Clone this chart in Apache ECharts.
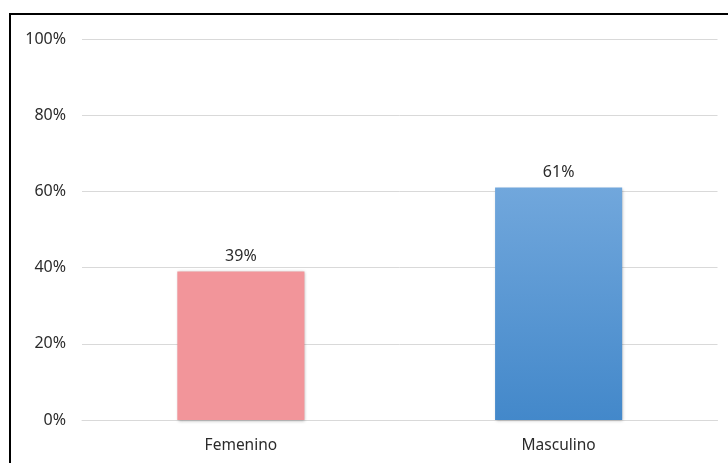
<!DOCTYPE html>
<html>
<head>
<meta charset="utf-8">
<script src="https://cdn.jsdelivr.net/npm/echarts@6/dist/echarts.min.js"></script>
<style>
html,body{margin:0;padding:0;background:#fff;}
#wrap{position:relative;width:728px;height:463px;}
#chart{position:absolute;left:0;top:0;width:728px;height:463px;}
#frame{position:absolute;left:9px;top:13px;right:-5px;bottom:-5px;border-left:2.5px solid #000;border-top:2.5px solid #000;pointer-events:none;}
</style>
</head>
<body>
<div id="wrap"><div id="chart"></div><div id="frame"></div></div>
<script>
var categories = ['Femenino', 'Masculino'];
var values = [39, 61];
var yTicks = [0, 20, 40, 60, 80, 100];

var colors = [
  '#F2959A',
  new echarts.graphic.LinearGradient(0, 0, 0, 1, [
    {offset: 0, color: '#71A7DC'},
    {offset: 1, color: '#4388CA'}
  ])
];

var chart = echarts.init(document.getElementById('chart'));
chart.setOption({
  animation: false,
  backgroundColor: '#fff',
  textStyle: {fontFamily: 'Noto Sans'},
  grid: {left: 82, right: 10.5, top: 39, bottom: 43, containLabel: false},
  xAxis: {
    type: 'category',
    data: categories,
    axisLine: {lineStyle: {color: '#D9D9D9', width: 1}},
    axisTick: {show: false},
    axisLabel: {color: '#2b2b2b', fontSize: 15.5, margin: 18, fontFamily: 'Noto Sans'}
  },
  yAxis: {
    type: 'value',
    min: yTicks[0],
    max: yTicks[yTicks.length - 1],
    interval: 20,
    axisLine: {show: false},
    axisTick: {show: false},
    splitLine: {lineStyle: {color: '#D9D9D9', width: 1}},
    axisLabel: {color: '#2b2b2b', fontSize: 16, margin: 16, fontFamily: 'Noto Sans', formatter: '{value}%'}
  },
  series: [{
    type: 'bar',
    barWidth: '40%',
    data: values.map(function (v, i) {
      return {value: v, itemStyle: {color: colors[i]}};
    }),
    itemStyle: {
      shadowBlur: 3,
      shadowColor: 'rgba(0,0,0,0.3)',
      shadowOffsetX: 1,
      shadowOffsetY: 1
    },
    label: {
      show: true,
      position: 'top',
      distance: 7,
      color: '#2b2b2b',
      fontSize: 16,
      fontFamily: 'Noto Sans',
      formatter: '{c}%'
    }
  }]
});
</script>
</body>
</html>
